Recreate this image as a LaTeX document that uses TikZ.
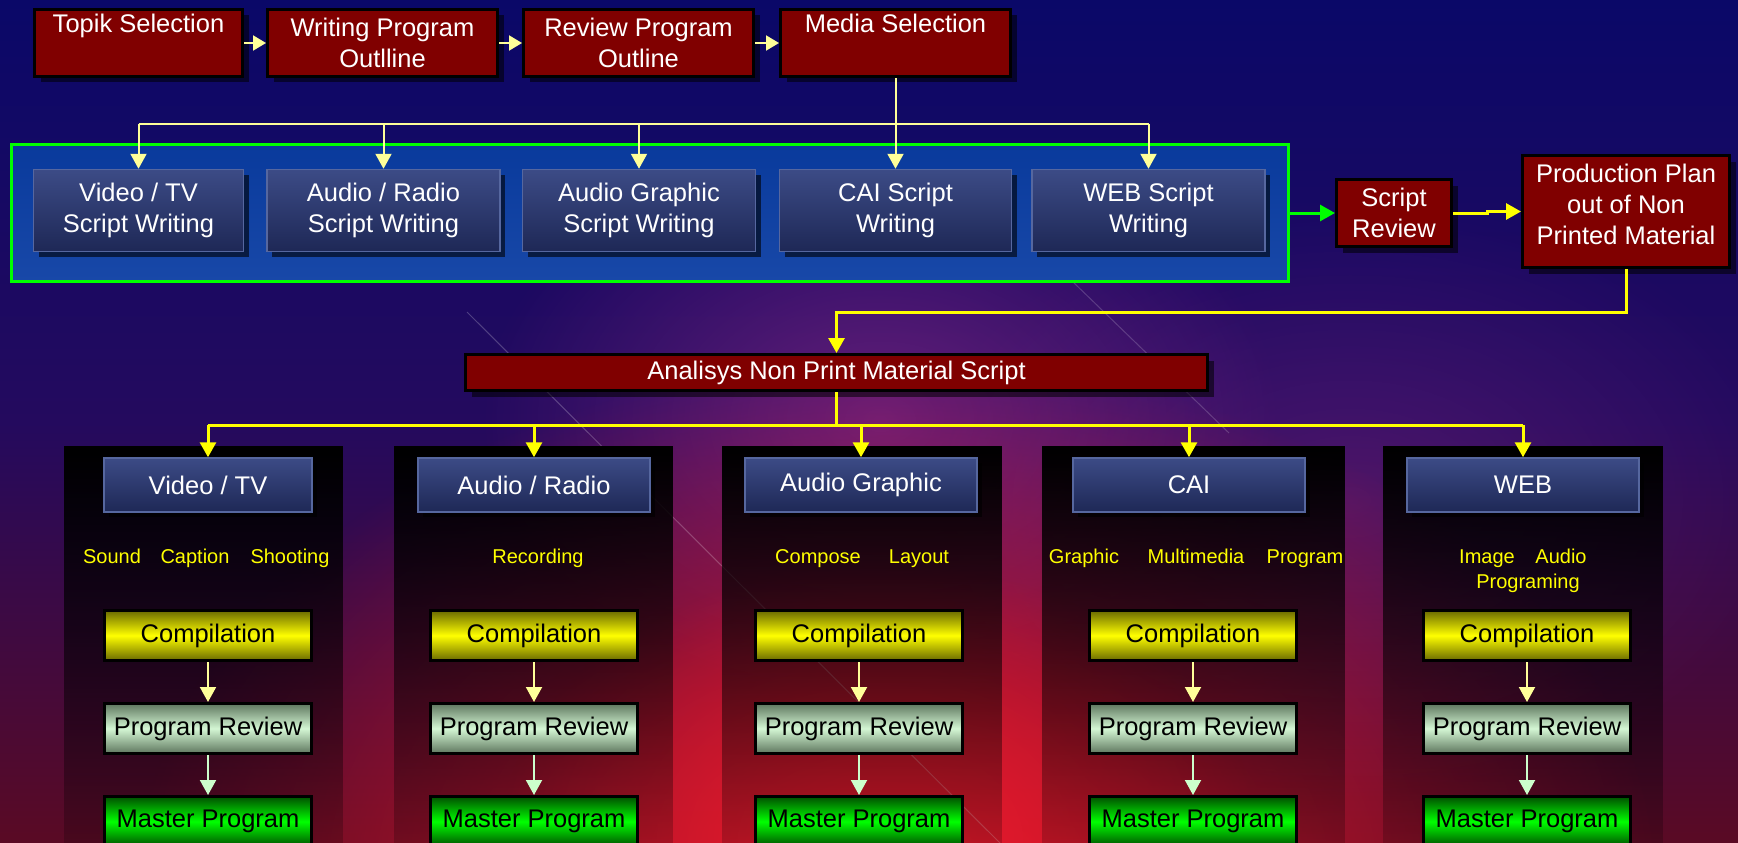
\documentclass[tikz,border=0pt]{standalone}
\usepackage{fontspec}
\setmainfont{Liberation Sans}
\usetikzlibrary{arrows.meta,shadows,fadings,calc}
\definecolor{bgtop}{HTML}{0A0868}
\definecolor{bgmid}{HTML}{240A5E}
\definecolor{bgbot}{HTML}{5A0A24}
\definecolor{glowred}{HTML}{E81A2C}
\definecolor{glowmag}{HTML}{A03090}
\definecolor{boxred}{HTML}{800000}
\definecolor{bluetop}{HTML}{3C4B86}
\definecolor{bluebot}{HTML}{1E2856}
\definecolor{bluedge}{HTML}{56679F}
\definecolor{conttop}{HTML}{093A9C}
\definecolor{contbot}{HTML}{1848A8}
\definecolor{brgreen}{HTML}{00FF00}
\definecolor{lyellow}{HTML}{FFFF99}
\definecolor{brYellow}{HTML}{FFFF00}
\definecolor{mint}{HTML}{CCFFCC}
\definecolor{ydark}{HTML}{6A6A00}
\definecolor{rdark}{HTML}{5E765E}
\definecolor{rmid}{HTML}{D4F7D4}
\definecolor{gdark}{HTML}{005000}
\newcommand\boxfnt{\fontsize{25.5}{31}\selectfont}
\newcommand\labfnt{\fontsize{20}{25}\selectfont}
\tikzfading[name=panelfade, top color=transparent!0, bottom color=transparent!82]
\tikzfading[name=glowfade, inner color=transparent!0, outer color=transparent!100]
\begin{document}
\begin{tikzpicture}[x=1pt,y=-1pt,
  redbox/.style={draw=black, line width=3pt, fill=boxred, text=white, font=\boxfnt, align=center, inner sep=0pt,
    drop shadow={shadow xshift=6pt, shadow yshift=-6pt, fill=black, opacity=0.55}},
  bluebox/.style={draw=bluedge, line width=1.5pt, top color=bluetop, bottom color=bluebot, text=white, font=\boxfnt, align=center, inner sep=0pt,
    drop shadow={shadow xshift=5pt, shadow yshift=-5pt, fill=black, opacity=0.6}},
  colbox/.style={draw=black, line width=3pt, font=\boxfnt, text=black, inner sep=0pt, minimum width=207pt, minimum height=50pt},
  compbox/.style={colbox, top color=ydark, bottom color=ydark, middle color=brYellow},
  revbox/.style={colbox, top color=rdark, bottom color=rdark, middle color=rmid},
  mastbox/.style={colbox, top color=gdark, bottom color=gdark, middle color=brgreen},
  boxtxt/.style={text=white, font=\boxfnt, align=center, inner sep=0pt},
  labtxt/.style={text=brYellow, font=\labfnt, inner sep=0pt, anchor=base},
  smallarrow/.style={draw=lyellow, line width=2pt, -{Triangle[width=15pt,length=13pt]}},
  lyline/.style={draw=lyellow, line width=2pt},
  lyarrow/.style={draw=lyellow, line width=2pt, -{Triangle[width=16pt,length=15pt]}},
  yline/.style={draw=brYellow, line width=3pt},
  yarrow/.style={draw=brYellow, line width=3pt, -{Triangle[width=16pt,length=15pt]}},
  garrow/.style={draw=brgreen, line width=3pt, -{Triangle[width=16pt,length=15pt]}},
  marrow/.style={draw=mint, line width=2pt, -{Triangle[width=16pt,length=15pt]}},
  panel/.style={fill=black, path fading=panelfade}
]
\useasboundingbox (0,0) rectangle (1738,843);
\clip (0,0) rectangle (1738,843);
% background
\shade[top color=bgtop, bottom color=bgbot, middle color=bgmid] (0,0) rectangle (1738,843);
\fill[glowmag, opacity=0.55, path fading=glowfade] (880,420) ellipse [x radius=400pt, y radius=280pt];
\fill[glowmag, opacity=0.3, path fading=glowfade] (1350,500) ellipse [x radius=450pt, y radius=300pt];
\fill[glowred, path fading=glowfade] (900,880) ellipse [x radius=760pt, y radius=520pt];
\fill[glowred, opacity=0.8, path fading=glowfade] (880,843) ellipse [x radius=380pt, y radius=280pt];
\draw[white, opacity=0.22, line width=1pt] (467,312) -- (1000,843);
\draw[white, opacity=0.18, line width=1pt] (1040,250) -- (1229,433);

% top row
\node[redbox, minimum width=208pt, minimum height=67pt] (topik) at (138.5,43) {Topik Selection\\\strut};
\node[redbox, minimum width=230pt, minimum height=67pt] (wpo) at (382.5,43) {Writing Program\\Outlline};
\node[redbox, minimum width=230pt, minimum height=67pt] (rpo) at (638.5,43) {Review Program\\Outline};
\node[redbox, minimum width=230pt, minimum height=67pt] (media) at (895.5,43) {Media Selection\\\strut};

% container
\node[draw=brgreen, line width=3pt, top color=conttop, bottom color=contbot, minimum width=1277pt, minimum height=137pt, inner sep=0pt] (cont) at (650,213) {};

% script boxes
\node[bluebox, minimum width=210pt, minimum height=82pt] (vid) at (138.5,210.5) {Video / TV\\Script Writing};
\node[bluebox, minimum width=233pt, minimum height=82pt] (aud) at (383.5,210.5) {Audio / Radio\\Script Writing};
\node[bluebox, minimum width=233pt, minimum height=82pt] (agr) at (639,210.5) {Audio Graphic\\Script Writing};
\node[bluebox, minimum width=232pt, minimum height=82pt] (cai) at (895.5,210.5) {CAI Script\\Writing};
\node[bluebox, minimum width=233pt, minimum height=82pt] (web) at (1148.5,210.5) {WEB Script\\Writing};

% script review and production plan
\node[redbox, minimum width=115pt, minimum height=67pt] (sr) at (1394,213) {Script\\Review};
\node[redbox, minimum width=207pt, minimum height=112pt] (pp) at (1626,211.5) {};
\node[boxtxt] (pptxt) at (1626,204) {Production Plan\\out of Non\\Printed Material};

% analysis
\node[redbox, minimum width=742pt, minimum height=36pt] (ana) at (836.5,372.5) {Analisys Non Print Material Script};

% panels
\fill[panel] (64,446) rectangle (343,843);
\fill[panel] (394,446) rectangle (673,843);
\fill[panel] (722,446) rectangle (1002,843);
\fill[panel] (1042,446) rectangle (1345,843);
\fill[panel] (1383,446) rectangle (1663,843);

% headers
\node[bluebox, minimum width=208pt, minimum height=54pt] (h1) at (208,485) {Video / TV};
\node[bluebox, minimum width=232pt, minimum height=54pt] (h2) at (534,485) {Audio / Radio};
\node[bluebox, minimum width=232pt, minimum height=54pt] (h3) at (861,485) {Audio Graphic};
\node[bluebox, minimum width=232pt, minimum height=54pt] (h4) at (1189,485) {CAI};
\node[bluebox, minimum width=232pt, minimum height=54pt] (h5) at (1523,485) {WEB};

% labels
\node[labtxt] (l11) at (112,563) {Sound};
\node[labtxt] (l12) at (195,563) {Caption};
\node[labtxt] (l13) at (290,563) {Shooting};
\node[labtxt] (l21) at (538,563) {Recording};
\node[labtxt] (l31) at (818,563) {Compose};
\node[labtxt] (l32) at (919,563) {Layout};
\node[labtxt] (l41) at (1084,563) {Graphic};
\node[labtxt] (l42) at (1196,563) {Multimedia};
\node[labtxt] (l43) at (1305,563) {Program};
\node[labtxt] (l51) at (1487,563) {Image};
\node[labtxt] (l52) at (1561,563) {Audio};
\node[labtxt] (l53) at (1528,588) {Programing};

% column boxes
\foreach \i/\x in {1/208,2/534,3/859,4/1193,5/1527}{
  \node[compbox] (c\i) at (\x,635.5) {Compilation};
  \node[revbox] (r\i) at (\x,728.5) {Program Review};
  \node[mastbox] (m\i) at (\x,821.5) {Master Program};
  \draw[lyarrow] (c\i.south) -- (r\i.north);
  \draw[marrow] (r\i.south) -- (m\i.north);
}

% connectors top row
\draw[smallarrow] (topik.east) -- (wpo.west);
\draw[smallarrow] (wpo.east) -- (rpo.west);
\draw[smallarrow] (rpo.east) -- (media.west);

% media bus
\coordinate (b1L) at (138.5,124);
\coordinate (b1R) at (1148.5,124);
\draw[lyline] (b1L) -- (b1R);
\draw[lyarrow] (media.south) -- (cai.north);
\draw[lyarrow] (b1L) -- (vid.north);
\draw[lyarrow] (aud.north |- b1L) -- (aud.north);
\draw[lyarrow] (agr.north |- b1L) -- (agr.north);
\draw[lyarrow] (b1R) -- (web.north);

% to script review and production plan
\draw[garrow] (cont.east) -- (sr.west);
\coordinate (j1) at (1487,213);
\coordinate (j2) at (1487,211.5);
\draw[yarrow] (sr.east) -- (j1) -- (j2) -- (pp.west);
\coordinate (k1) at (1626,312);
\coordinate (k2) at (836.5,312);
\draw[yarrow] (pp.south) -- (k1) -- (k2) -- (ana.north);

% analysis bus
\coordinate (b2L) at (208,425);
\coordinate (b2R) at (1523,425);
\coordinate (b2M) at (836.5,425);
\draw[yline] (ana.south) -- (b2M);
\draw[yline] (b2L) -- (b2R);
\draw[yarrow] (b2L) -- (h1.north);
\draw[yarrow] (h2.north |- b2L) -- (h2.north);
\draw[yarrow] (h3.north |- b2L) -- (h3.north);
\draw[yarrow] (h4.north |- b2L) -- (h4.north);
\draw[yarrow] (b2R) -- (h5.north);
\end{tikzpicture}
\end{document}
